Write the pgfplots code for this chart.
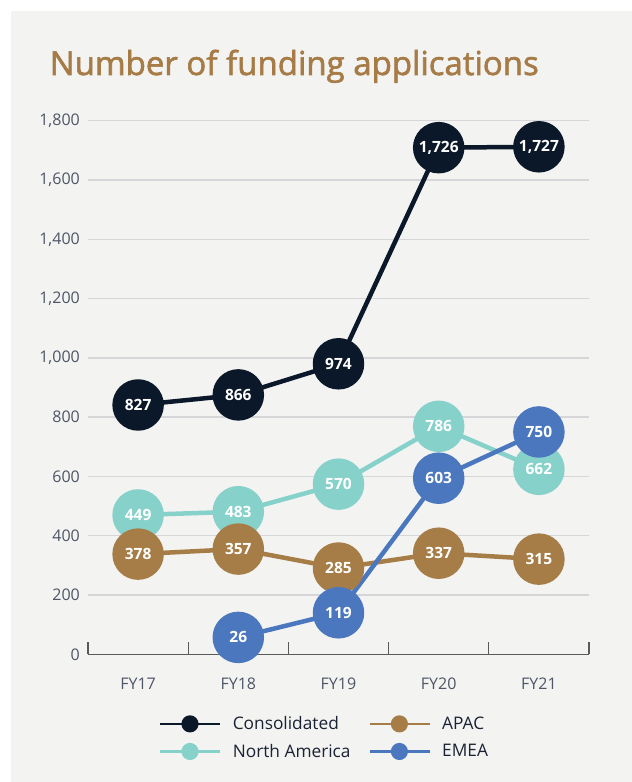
\documentclass[border=0pt]{standalone}
\usepackage{pgfplots}
\pgfplotsset{compat=1.18}
\usetikzlibrary{backgrounds}
\usepackage{fontspec}
\setmainfont{Open Sans}
\newfontfamily\titlefont{Open Sans}[FakeBold=1.8]
\definecolor{bgc}{HTML}{F3F3F1}
\definecolor{gridc}{HTML}{D6D6D9}
\definecolor{axisc}{HTML}{5A5A5C}
\definecolor{tickc}{HTML}{4E5566}
\definecolor{legc}{HTML}{1A2233}
\definecolor{titlec}{HTML}{A67B45}
\definecolor{navyc}{HTML}{0B1829}
\definecolor{tealc}{HTML}{86D2CB}
\definecolor{goldc}{HTML}{A67D47}
\definecolor{bluec}{HTML}{4A77BD}
\pgfplotstableread{
x y lab
0 841 827
1 875 866
2 980 974
3 1709 1,726
4 1712 1,727
}\consolidated
\pgfplotstableread{
x y lab
0 470 449
1 481 483
2 574 570
3 769 786
4 624 662
}\northamerica
\pgfplotstableread{
x y lab
0 338 378
1 355 357
2 291 285
3 341 337
4 321 315
}\apac
\pgfplotstableread{
x y lab
1 57 26
2 140 119
3 594 603
4 750 750
}\emea
\begin{document}
\begin{tikzpicture}[x=1pt,y=1pt]
\begin{axis}[
  scale only axis, width=501pt, height=533.6pt,
  xmin=-0.5, xmax=4.5, ymin=0, ymax=1800,
  clip=false,
  axis x line=bottom, axis y line=left,
  axis line style={-},
  y axis line style={draw=none},
  x axis line style={color=axisc, line width=1.5pt},
  xtick={0,1,2,3,4},
  xticklabels={FY17,FY18,FY19,FY20,FY21},
  minor xtick={-0.5,0.5,1.5,2.5,3.5,4.5},
  tick align=inside,
  major tick length=0pt,
  minor tick length=12pt,
  minor x tick style={color=axisc, line width=1.2pt},
  ytick={0,200,...,1800},
  ymajorgrids,
  grid style={color=gridc, line width=1.3pt},
  ticklabel style={font=\fontsize{16}{19}\selectfont, text=tickc},
  xticklabel style={inner sep=0pt, anchor=north, yshift=-23.4pt},
  yticklabel style={inner sep=0pt, anchor=east, xshift=-8pt},
  /pgf/number format/.cd, 1000 sep={,}, assume math mode=true,
  /pgfplots/.cd,
  every axis plot/.append style={line width=4.5pt, line join=round},
  point meta=explicit symbolic,
  nodes near coords,
  nodes near coords align=center,
  every node near coord/.append style={text=white, inner sep=0pt, font=\bfseries\fontsize{15.5}{18}\selectfont},
  legend columns=2,
  legend cell align=left,
  legend image code/.code={\draw[#1, line width=2.6pt] (0pt,0pt) -- (60pt,0pt); \fill[#1] (29.5pt,0pt) circle (6.3pt);},
  legend style={at={(0.1417,-0.1140)}, anchor=north west, draw=none, fill=none, inner sep=0pt,
    row sep=10.5pt, font=\fontsize{17.3}{20}\selectfont, text=legc,
    nodes={inner sep=0pt},
    /tikz/every odd column/.append style={column sep=11pt},
    /tikz/every even column/.append style={column sep=18pt}},
]
\addlegendimage{navyc}
\addlegendentry{Consolidated}
\addlegendimage{goldc}
\addlegendentry{APAC}
\addlegendimage{tealc}
\addlegendentry{North America}
\addlegendimage{bluec}
\addlegendentry{EMEA}
\addplot[navyc, mark=*, mark size=23.5pt, mark options={draw=none, fill=navyc}, forget plot] table[x=x, y=y, meta=lab] {\consolidated};
\addplot[tealc, mark=*, mark size=23.5pt, mark options={draw=none, fill=tealc}, forget plot] table[x=x, y=y, meta=lab] {\northamerica};
\addplot[goldc, mark=*, mark size=23.5pt, mark options={draw=none, fill=goldc}, forget plot] table[x=x, y=y, meta=lab] {\apac};
\addplot[bluec, mark=*, mark size=23.5pt, mark options={draw=none, fill=bluec}, forget plot] table[x=x, y=y, meta=lab] {\emea};
\coordinate (O) at (axis cs:-0.5,0);
\end{axis}
\path (O) ++(-88,-127.7) coordinate (P);
\begin{scope}[on background layer]
\fill[white] (P) rectangle ([shift={(632,782)}]P);
\fill[bgc] ([shift={(11,0)}]P) rectangle ([shift={(632,771)}]P);
\end{scope}
\node[anchor=base west, inner sep=0pt, text=titlec, font=\titlefont\fontsize{33}{38}\selectfont] at ([shift={(49.6,707)}]P) {Number of funding applications};
\end{tikzpicture}
\end{document}
